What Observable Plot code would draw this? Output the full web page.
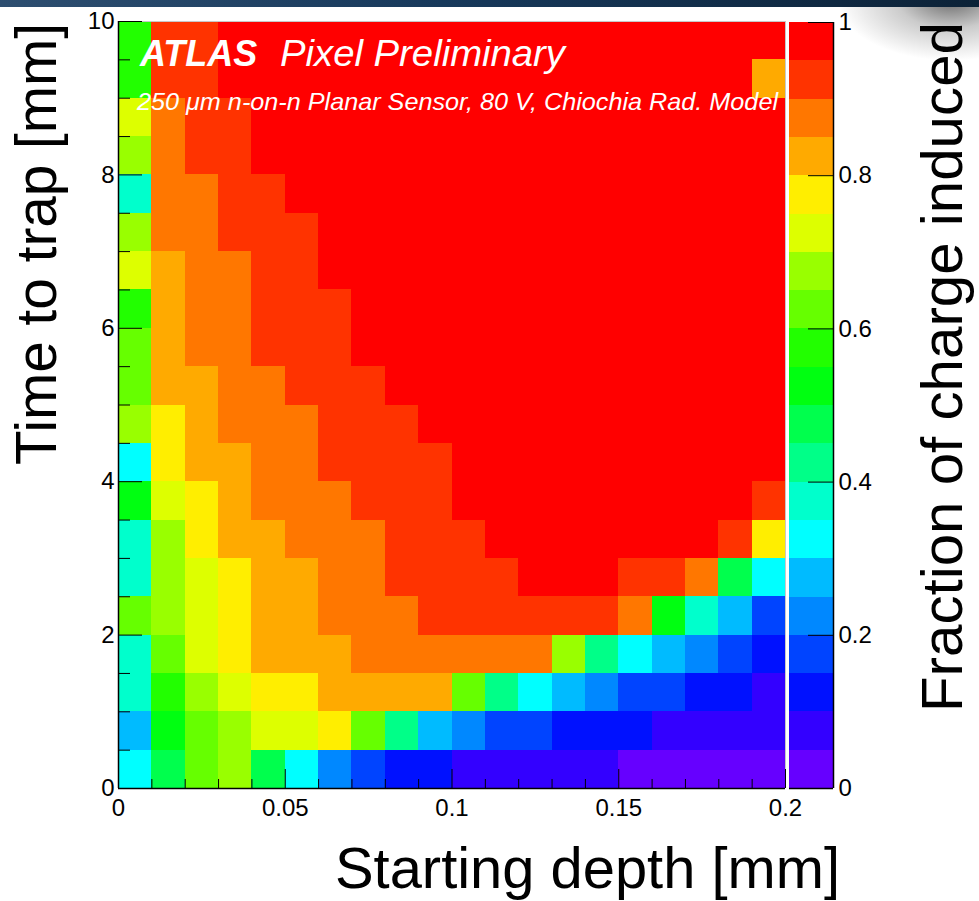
<!DOCTYPE html>
<html>
<head>
<meta charset="utf-8">
<script src="https://cdn.jsdelivr.net/npm/d3@7"></script>
<script src="https://cdn.jsdelivr.net/npm/@observablehq/plot@0.6"></script>
<style>
  html, body { margin: 0; padding: 0; background: #fff; }
  #chart { position: relative; width: 979px; height: 901px; overflow: hidden; background: #fff; }
  #chart svg { position: absolute; top: 0; }
  .shade { position: absolute; right: 0; top: 0; width: 140px; height: 95px;
    background: radial-gradient(ellipse 95% 75% at 80% 0%, rgba(70,70,70,0.8) 0%, rgba(140,140,140,0.45) 40%, rgba(255,255,255,0) 85%); }
  .topbar { position: absolute; left: 0; top: 0; width: 979px; height: 7px; z-index: 3;
    background: linear-gradient(90deg, #2d4e70 0%, #17395b 45%, #0c2237 100%); }
</style>
</head>
<body>
<div id="chart"><div class="shade"></div></div>
<script>
// Bin edges of the 2D histogram
const depthEdges = [0, 0.01, 0.02, 0.03, 0.04, 0.05, 0.06, 0.07, 0.08, 0.09, 0.1,
                    0.11, 0.12, 0.13, 0.14, 0.15, 0.16, 0.17, 0.18, 0.19, 0.2];
const trapEdges = [0, 0.5, 1, 1.5, 2, 2.5, 3, 3.5, 4, 4.5, 5,
                   5.5, 6, 6.5, 7, 7.5, 8, 8.5, 9, 9.5, 10];

// Fraction of charge induced; one row per time-to-trap bin (bottom to top),
// one entry per starting-depth bin (left to right)
const fraction = [
  [0.32,0.48,0.62,0.68,0.48,0.32,0.22,0.18,0.12,0.12,0.08,0.08,0.08,0.08,0.08,0.03,0.03,0.03,0.03,0.03], // 0.0-0.5
  [0.28,0.52,0.62,0.68,0.72,0.72,0.78,0.62,0.42,0.28,0.22,0.18,0.18,0.12,0.12,0.12,0.08,0.08,0.08,0.08], // 0.5-1.0
  [0.38,0.58,0.68,0.72,0.78,0.78,0.83,0.83,0.83,0.83,0.62,0.42,0.32,0.28,0.22,0.18,0.18,0.12,0.12,0.08], // 1.0-1.5
  [0.38,0.62,0.72,0.78,0.83,0.83,0.83,0.88,0.88,0.88,0.88,0.88,0.88,0.68,0.42,0.32,0.28,0.22,0.18,0.12], // 1.5-2.0
  [0.62,0.68,0.72,0.78,0.83,0.83,0.88,0.88,0.88,0.92,0.92,0.92,0.92,0.92,0.92,0.88,0.52,0.38,0.28,0.18], // 2.0-2.5
  [0.38,0.68,0.72,0.78,0.83,0.83,0.88,0.88,0.92,0.92,0.92,0.92,0.98,0.98,0.98,0.92,0.92,0.88,0.48,0.32], // 2.5-3.0
  [0.38,0.68,0.78,0.83,0.83,0.88,0.88,0.88,0.92,0.92,0.92,0.98,0.98,0.98,0.98,0.98,0.98,0.98,0.92,0.78], // 3.0-3.5
  [0.52,0.72,0.78,0.83,0.88,0.88,0.88,0.92,0.92,0.92,0.98,0.98,0.98,0.98,0.98,0.98,0.98,0.98,0.98,0.92], // 3.5-4.0
  [0.32,0.78,0.83,0.83,0.88,0.88,0.92,0.92,0.92,0.92,0.98,0.98,0.98,0.98,0.98,0.98,0.98,0.98,0.98,0.98], // 4.0-4.5
  [0.68,0.78,0.83,0.88,0.88,0.88,0.92,0.92,0.92,0.98,0.98,0.98,0.98,0.98,0.98,0.98,0.98,0.98,0.98,0.98], // 4.5-5.0
  [0.62,0.83,0.83,0.88,0.88,0.92,0.92,0.92,0.98,0.98,0.98,0.98,0.98,0.98,0.98,0.98,0.98,0.98,0.98,0.98], // 5.0-5.5
  [0.62,0.83,0.88,0.88,0.92,0.92,0.92,0.98,0.98,0.98,0.98,0.98,0.98,0.98,0.98,0.98,0.98,0.98,0.98,0.98], // 5.5-6.0
  [0.58,0.83,0.88,0.88,0.92,0.92,0.92,0.98,0.98,0.98,0.98,0.98,0.98,0.98,0.98,0.98,0.98,0.98,0.98,0.98], // 6.0-6.5
  [0.72,0.83,0.88,0.88,0.92,0.92,0.98,0.98,0.98,0.98,0.98,0.98,0.98,0.98,0.98,0.98,0.98,0.98,0.98,0.98], // 6.5-7.0
  [0.68,0.88,0.88,0.92,0.92,0.92,0.98,0.98,0.98,0.98,0.98,0.98,0.98,0.98,0.98,0.98,0.98,0.98,0.98,0.98], // 7.0-7.5
  [0.38,0.88,0.88,0.92,0.92,0.98,0.98,0.98,0.98,0.98,0.98,0.98,0.98,0.98,0.98,0.98,0.98,0.98,0.98,0.98], // 7.5-8.0
  [0.68,0.88,0.92,0.92,0.98,0.98,0.98,0.98,0.98,0.98,0.98,0.98,0.98,0.98,0.98,0.98,0.98,0.98,0.98,0.98], // 8.0-8.5
  [0.72,0.88,0.92,0.92,0.98,0.98,0.98,0.98,0.98,0.98,0.98,0.98,0.98,0.98,0.98,0.98,0.98,0.98,0.98,0.98], // 8.5-9.0
  [0.58,0.92,0.92,0.98,0.98,0.98,0.98,0.98,0.98,0.98,0.98,0.98,0.98,0.98,0.98,0.98,0.98,0.98,0.98,0.83], // 9.0-9.5
  [0.58,0.92,0.92,0.98,0.98,0.98,0.98,0.98,0.98,0.98,0.98,0.98,0.98,0.98,0.98,0.98,0.98,0.98,0.98,0.98]  // 9.5-10
];

// Axis ticks
const xTickValues = [0, 0.05, 0.1, 0.15, 0.2];
const xMinorTicks = [0.01, 0.02, 0.03, 0.04, 0.06, 0.07, 0.08, 0.09, 0.11, 0.12,
                     0.13, 0.14, 0.16, 0.17, 0.18, 0.19];
const yTickValues = [0, 2, 4, 6, 8, 10];
const yMinorTicks = [0.5, 1, 1.5, 2.5, 3, 3.5, 4.5, 5, 5.5, 6.5, 7, 7.5, 8.5, 9, 9.5];

// Contour levels and the rainbow palette (violet -> red)
const colorLevels = [0, 0.05, 0.1, 0.15, 0.2, 0.25, 0.3, 0.35, 0.4, 0.45, 0.5,
                     0.55, 0.6, 0.65, 0.7, 0.75, 0.8, 0.85, 0.9, 0.95, 1];
const palette = ["#6600ff", "#3300ff", "#0011ff", "#0044ff", "#0088ff",
                 "#00bbff", "#00ffff", "#00ffcc", "#00ff88", "#00ff4d",
                 "#00ff11", "#22ff00", "#66ff00", "#99ff00", "#ddff00",
                 "#ffee00", "#ffaa00", "#ff7700", "#ff3300", "#ff0000"];
const barTickValues = [0, 0.2, 0.4, 0.6, 0.8, 1];

const FONT = '"Liberation Sans", Arial, Helvetica, sans-serif';
const TICK_FONT = "24px";
const W = 979, H = 901;
const mL = 118, mR = W - 785, mT = 21, mB = H - 788;
const FW = W - mL - mR, FH = H - mT - mB;

const colorScale = {type: "threshold", domain: colorLevels.slice(1, -1), range: palette, legend: false};

const cells = fraction.flatMap((row, j) => row.map((v, i) => ({
  x1: depthEdges[i], x2: depthEdges[i + 1], y1: trapEdges[j], y2: trapEdges[j + 1], v
})));

const heat = Plot.plot({
  width: W, height: H,
  marginLeft: mL, marginRight: mR, marginTop: mT, marginBottom: mB,
  style: {background: "none", fontFamily: FONT, color: "black", overflow: "visible"},
  x: {domain: [0, 0.2]},
  y: {domain: [0, 10]},
  color: colorScale,
  marks: [
    Plot.rect(cells, {x1: "x1", x2: "x2", y1: "y1", y2: "y2", fill: "v", shapeRendering: "crispEdges"}),
    Plot.ruleY([10], {stroke: "#c8c8c8"}),
    Plot.ruleX([0.2], {stroke: "#c8c8c8"}),
    Plot.tickX(xMinorTicks, {x: d => d, insetTop: FH - 9, stroke: "black"}),
    Plot.tickX(xTickValues, {x: d => d, insetTop: FH - 19, stroke: "black"}),
    Plot.tickY(yMinorTicks, {y: d => d, insetRight: FW - 12, stroke: "black"}),
    Plot.tickY(yTickValues, {y: d => d, insetRight: FW - 24, stroke: "black"}),
    Plot.ruleX([0], {stroke: "black", strokeWidth: 1.5}),
    Plot.ruleY([0], {stroke: "black", strokeWidth: 1.5}),
    Plot.axisX(xTickValues, {tickSize: 0, tickPadding: 10, label: null, tickFormat: d => String(d)}),
    Plot.axisY(yTickValues, {tickSize: 0, tickPadding: 4, label: null, tickFormat: d => String(d)})
  ]
});

// Colour bar on the right
const bands = palette.map((c, k) => ({
  lo: colorLevels[k], hi: colorLevels[k + 1], mid: (colorLevels[k] + colorLevels[k + 1]) / 2
}));
const barW = 44;
const bar = Plot.plot({
  width: 110, height: H,
  marginLeft: 0, marginRight: 110 - barW, marginTop: 22, marginBottom: H - 788,
  style: {background: "none", fontFamily: FONT, color: "black", overflow: "visible"},
  x: {domain: [0, 1], axis: null},
  y: {domain: [0, 1], axis: null},
  color: colorScale,
  marks: [
    Plot.rect(bands, {x1: 0, x2: 1, y1: "lo", y2: "hi", fill: "mid", shapeRendering: "crispEdges"}),
    Plot.tickY(barTickValues, {y: d => d, insetLeft: barW - 25, stroke: "black"}),
    Plot.ruleX([1], {stroke: "black", strokeWidth: 1.5}),
    Plot.ruleY([0], {stroke: "black", strokeWidth: 1.5}),
    Plot.axisY(barTickValues, {anchor: "right", tickSize: 0, tickPadding: 5, label: null, tickFormat: d => String(d)})
  ]
});
bar.style.left = "789px";

// Larger tick labels, as in the style of the original figure
for (const s of [heat, bar]) {
  d3.select(s).selectAll('g[aria-label$="tick label"]')
    .style("font-size", TICK_FONT)
    .selectAll("text").style("font-size", TICK_FONT);
}

const chart = document.getElementById("chart");
heat.style.left = "0px";
chart.appendChild(heat);
chart.appendChild(bar);
const topbar = document.createElement("div");
topbar.className = "topbar";
chart.appendChild(topbar);

// Titles and annotation
const svg = d3.select(heat);
svg.append("text")
  .attr("transform", "translate(56,23) rotate(-90)")
  .attr("text-anchor", "end").attr("font-size", 58).attr("fill", "black")
  .attr("textLength", 442).attr("lengthAdjust", "spacingAndGlyphs")
  .text("Time to trap [mm]");
svg.append("text")
  .attr("x", 840).attr("y", 888)
  .attr("text-anchor", "end").attr("font-size", 58).attr("fill", "black")
  .attr("textLength", 505).attr("lengthAdjust", "spacingAndGlyphs")
  .text("Starting depth [mm]");
svg.append("text")
  .attr("transform", "translate(962,22) rotate(-90)")
  .attr("text-anchor", "end").attr("font-size", 58).attr("fill", "black")
  .attr("textLength", 690).attr("lengthAdjust", "spacingAndGlyphs")
  .text("Fraction of charge induced");

svg.append("text")
  .attr("x", 140).attr("y", 66).attr("fill", "white").attr("text-anchor", "start")
  .attr("font-size", 36).attr("font-weight", "bold").attr("font-style", "italic")
  .text("ATLAS");
svg.append("text")
  .attr("x", 280).attr("y", 66).attr("fill", "white").attr("text-anchor", "start")
  .attr("font-size", 36).attr("font-style", "italic")
  .attr("textLength", 285).attr("lengthAdjust", "spacingAndGlyphs")
  .text("Pixel Preliminary");
svg.append("text")
  .attr("x", 137).attr("y", 110).attr("fill", "white").attr("text-anchor", "start")
  .attr("font-size", 24).attr("font-style", "italic")
  .attr("textLength", 641).attr("lengthAdjust", "spacingAndGlyphs")
  .text("250 \u03bcm n-on-n Planar Sensor, 80 V, Chiochia Rad. Model");
</script>
</body>
</html>
